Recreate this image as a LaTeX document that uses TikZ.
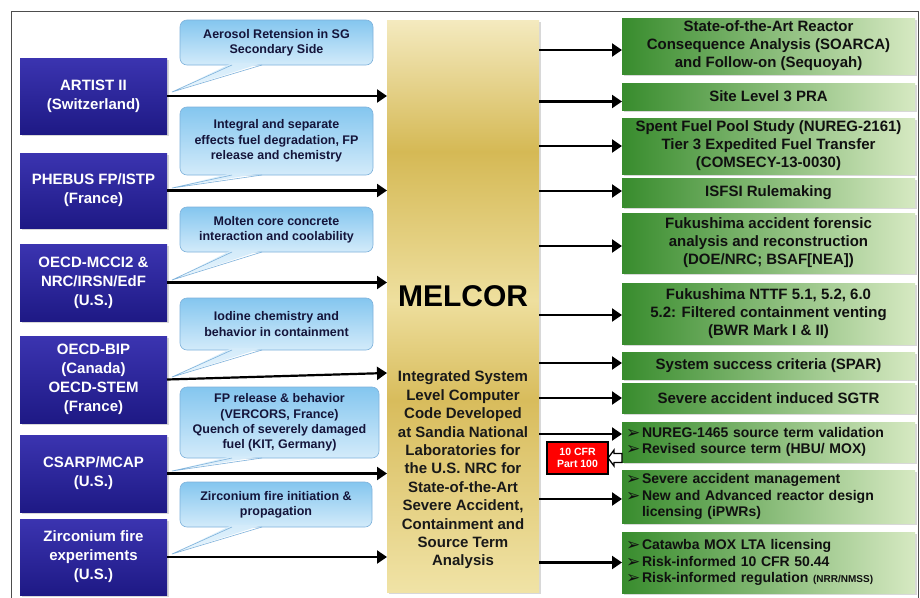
\documentclass[tikz,border=0pt]{standalone}
\usepackage{fontspec}
\setmainfont{Liberation Sans}
\newfontfamily\djv{DejaVu Sans}
\usetikzlibrary{arrows.meta,shadows,calc}
\definecolor{bluetop}{HTML}{3B34B0}
\definecolor{bluebot}{HTML}{1E1985}
\definecolor{calltop}{HTML}{84C6EF}
\definecolor{callbot}{HTML}{D3EBFA}
\definecolor{calltip}{HTML}{EAF6FD}
\definecolor{cborder}{HTML}{7FB2DB}
\definecolor{calltext}{HTML}{14143A}
\definecolor{greenL}{HTML}{388C2D}
\definecolor{greenR}{HTML}{D6E9C2}
\definecolor{greentext}{HTML}{101010}
\definecolor{framecol}{HTML}{4D4D4D}
\definecolor{mlA}{HTML}{F0E3A6}
\definecolor{mlD}{HTML}{D8BC5C}
\definecolor{mlB}{HTML}{EEDF9E}
\definecolor{mlE}{HTML}{D5B955}
\definecolor{mlT}{HTML}{F4EABF}
\pgfdeclareverticalshading{melcorshade}{100bp}{color(0bp)=(mlA); color(25bp)=(mlA); color(41.8bp)=(mlD); color(50.5bp)=(mlB); color(63.5bp)=(mlE); color(75bp)=(mlT); color(100bp)=(mlT)}
\newcommand\mytail[2]{%
  \shade[top color=callbot, bottom color=calltip] ($(#1.south west)+(52,-2)$) -- (#2) -- ($(#1.south west)+(82,-2)$) -- cycle;
  \draw[cborder, line width=0.6pt] ($(#1.south west)+(52,0)$) -- (#2) -- ($(#1.south west)+(82,0)$);}
\newcommand\bul{\makebox[16pt][l]{\raisebox{-1pt}{\djv\bfseries\fontsize{17}{17}\selectfont ➢}}}
\begin{document}
\begin{tikzpicture}[x=1pt,y=-1pt,
  every node/.style={inner sep=0pt, outer sep=0pt},
  shad/.style={drop shadow={shadow xshift=1.8pt, shadow yshift=-1.8pt, opacity=0.3}},
  bluebox/.style={shad, top color=bluetop, bottom color=bluebot, text=white, align=center,
    minimum width=147pt, font=\bfseries\fontsize{15}{19}\selectfont},
  callout/.style={rounded corners=7pt, draw=cborder, line width=0.6pt, top color=calltop,
    bottom color=callbot, text=calltext, align=center, font=\bfseries\fontsize{12.5}{15.3}\selectfont},
  greenbox/.style={shad, left color=greenL, right color=greenR, minimum width=293pt, text=greentext,
    align=center, font=\bfseries\fontsize{15}{18}\selectfont},
  bulletbox/.style={greenbox, align=left, text width=285pt, inner xsep=4pt,
    font=\bfseries\fontsize{14}{16.5}\selectfont},
  arr/.style={line width=2.2pt, -{Triangle[length=10pt,width=13pt]}},
  hollow/.style={line width=1.3pt, draw=black, fill=white}
]
\useasboundingbox (0,0) rectangle (920,597);
\fill[white] (0,0) rectangle (920,597);
\draw[framecol, line width=0.9pt] (11,600) -- (11,11) -- (918,11) -- (918,600);

% left blue boxes
\node[bluebox, minimum height=76pt] (artist) at (93.5,96) {ARTIST II\\(Switzerland)};
\node[bluebox, minimum height=75pt] (phebus) at (93.5,190.5) {PHEBUS FP/ISTP\\(France)};
\node[bluebox, minimum height=77pt] (mcci) at (93.5,282.5) {OECD-MCCI2 \&\\NRC/IRSN/EdF\\(U.S.)};
\node[bluebox, minimum height=87pt] (bip) at (93.5,379.5) {OECD-BIP\\(Canada)\\OECD-STEM\\(France)};
\node[bluebox, minimum height=77pt] (csarp) at (93.5,473.5) {CSARP/MCAP\\(U.S.)};
\node[bluebox, minimum height=76pt] (zirc) at (93.5,557) {Zirconium fire\\experiments\\(U.S.)};

% MELCOR
\node[shad, shade, shading=melcorshade, minimum width=152pt, minimum height=572pt] (melcor) at (463,306) {};
\node[font=\bfseries\fontsize{30}{30}\selectfont] (mtitle) at (463,296) {MELCOR};
\node[align=center, font=\bfseries\fontsize{15}{18.4}\selectfont, text=black!90] (mdesc) at (463,470)
  {Integrated System\\Level Computer\\Code Developed\\at Sandia National\\Laboratories for\\the U.S. NRC for\\State-of-the-Art\\Severe Accident,\\Containment and\\Source Term\\Analysis};

% arrows left -> MELCOR
\draw[arr] (artist.east) -- (artist.east -| melcor.west);
\draw[arr] (phebus.east) -- (phebus.east -| melcor.west);
\draw[arr] (mcci.east) -- (mcci.east -| melcor.west);
\draw[arr] (bip.east) -- ([yshift=6.5pt]bip.east -| melcor.west);
\draw[arr] (csarp.east) -- (csarp.east -| melcor.west);
\draw[arr] (zirc.east) -- (zirc.east -| melcor.west);

% callouts
\coordinate (t1) at (172,92);
\coordinate (t2) at (172,188);
\coordinate (t3) at (172,280);
\coordinate (t4) at (172,377);
\coordinate (t5) at (172,471);
\coordinate (t6) at (172,554);
\node[callout, minimum width=193pt, minimum height=45pt] (c1) at (276.5,42.5) {Aerosol Retension in SG\\Secondary Side};
\node[callout, minimum width=193pt, minimum height=68pt] (c2) at (276.5,141) {Integral and separate\\effects fuel degradation, FP\\release and chemistry};
\node[callout, minimum width=193pt, minimum height=45pt] (c3) at (276.5,229.5) {Molten core concrete\\interaction and coolability};
\node[callout, minimum width=193pt, minimum height=52pt] (c4) at (276.5,324) {Iodine chemistry and\\behavior in containment};
\node[callout, minimum width=199pt, minimum height=71pt] (c5) at (279.5,422.5) {FP release \& behavior\\(VERCORS, France)\\Quench of severely damaged\\fuel (KIT, Germany)};
\node[callout, minimum width=192pt, minimum height=45pt] (c6) at (276,504.5) {Zirconium fire initiation \&\\propagation};
\mytail{c1}{t1}
\mytail{c2}{t2}
\mytail{c3}{t3}
\mytail{c4}{t4}
\mytail{c5}{t5}
\mytail{c6}{t6}

% green boxes
\node[greenbox, minimum height=56pt] (g1) at (768.5,46) {State-of-the-Art Reactor\\Consequence Analysis (SOARCA)\\and Follow-on (Sequoyah)};
\node[greenbox, minimum height=27pt] (g2) at (768.5,96.5) {Site Level 3 PRA};
\node[greenbox, minimum height=56pt] (g3) at (768.5,146) {Spent Fuel Pool Study (NUREG-2161)\\Tier 3 Expedited Fuel Transfer\\(COMSECY-13-0030)};
\node[greenbox, minimum height=29pt] (g4) at (768.5,192.5) {ISFSI Rulemaking};
\node[greenbox, minimum height=60pt] (g5) at (768.5,243) {Fukushima accident forensic\\analysis and reconstruction\\(DOE/NRC; BSAF[NEA])};
\node[greenbox, minimum height=61pt] (g6) at (768.5,313.5) {Fukushima NTTF 5.1, 5.2, 6.0\\5.2: Filtered containment venting\\(BWR Mark I \& II)};
\node[greenbox, minimum height=27pt] (g7) at (768.5,365.5) {System success criteria (SPAR)};
\node[greenbox, minimum height=30pt] (g8) at (768.5,398) {Severe accident induced SGTR};
\node[bulletbox, minimum height=40pt] (g9) at (768.5,442) {\bul NUREG-1465 source term validation\\\bul Revised source term (HBU/ MOX)};
\node[bulletbox, minimum height=53pt] (g10) at (768.5,496.5) {\bul Severe accident management\\\bul New and Advanced reactor design\\\hspace*{16pt}licensing (iPWRs)};
\node[bulletbox, minimum height=61pt] (g11) at (768.5,562.5) {\bul Catawba MOX LTA licensing\\\bul Risk-informed 10 CFR 50.44\\\bul Risk-informed regulation {\fontsize{10}{10}\selectfont (NRR/NMSS)}};

% arrows MELCOR -> green
\draw[arr] ([yshift=-4pt]g1.west -| melcor.east) -- ([yshift=-4pt]g1.west);
\draw[arr] ([yshift=-5pt]g2.west -| melcor.east) -- ([yshift=-5pt]g2.west);
\draw[arr] (g3.west -| melcor.east) -- (g3.west);
\draw[arr] ([yshift=1.5pt]g4.west -| melcor.east) -- ([yshift=1.5pt]g4.west);
\draw[arr] ([yshift=-3pt]g5.west -| melcor.east) -- ([yshift=-3pt]g5.west);
\draw[arr] ([yshift=-1.5pt]g6.west -| melcor.east) -- ([yshift=-1.5pt]g6.west);
\draw[arr] ([yshift=2.5pt]g7.west -| melcor.east) -- ([yshift=2.5pt]g7.west);
\draw[arr] (g8.west -| melcor.east) -- (g8.west);
\draw[arr] ([yshift=8pt]g9.west -| melcor.east) -- ([yshift=8pt]g9.west);
\draw[arr] ([yshift=-2.5pt]g10.west -| melcor.east) -- ([yshift=-2.5pt]g10.west);
\draw[arr] (g11.west -| melcor.east) -- (g11.west);

% 10 CFR Part 100
\node[draw=black, line width=1.5pt, fill=red, text=white, align=center, minimum width=61pt, minimum height=32pt,
  font=\bfseries\fontsize{10.5}{12.5}\selectfont] (cfr) at (577.5,458) {10 CFR\\Part 100};
\draw[hollow] (cfr.east) -- ++(6,-8) -- ++(0,3.5) -- ++(8,0) -- ++(0,9) -- ++(-8,0) -- ++(0,3.5) -- cycle;
\end{tikzpicture}
\end{document}
